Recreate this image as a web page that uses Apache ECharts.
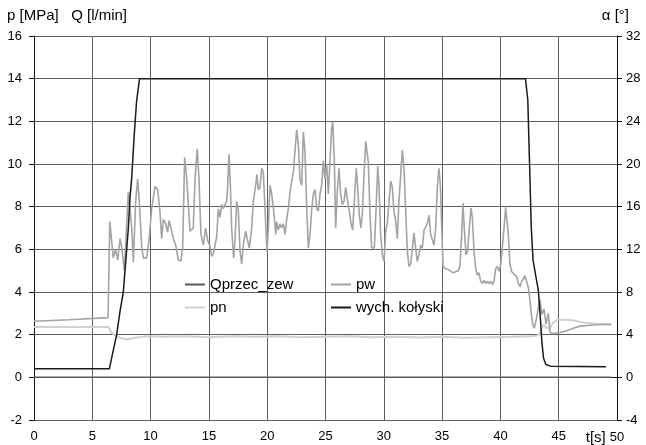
<!DOCTYPE html>
<html>
<head>
<meta charset="utf-8">
<script src="https://cdn.jsdelivr.net/npm/echarts@6/dist/echarts.min.js"></script>
<style>
    html, body { margin: 0; padding: 0; background: #fff; }
    #chart-container { width: 646px; height: 445px; }
</style>
</head>
<body>
<div id="chart-container"></div>
<script>
// t [s], value
var qprzecZew = [[0, 0], [49.5, 0]];

var pw = [
    [0, 2.63], [3, 2.7], [6.35, 2.8], [6.5, 7.3], [6.8, 5.6], [7.0, 6.0], [7.18, 5.5], [7.38, 6.5], [7.52, 6.1],
    [7.75, 5.0], [8.09, 8.7], [8.23, 7.9], [8.38, 7.0], [8.52, 5.4], [8.72, 8.25], [8.89, 9.3], [9.03, 8.25],
    [9.24, 6.1], [9.38, 5.6], [9.66, 5.6], [9.86, 6.4], [10.09, 7.9], [10.38, 8.95], [10.6, 8.8], [10.8, 7.8],
    [10.95, 6.5], [11.09, 7.4], [11.29, 7.2], [11.46, 6.8], [11.58, 7.35], [11.75, 7.0], [11.95, 6.5], [12.15, 6.2],
    [12.38, 5.5], [12.6, 5.45], [12.75, 6.1], [12.92, 10.3], [13.1, 9.3], [13.38, 6.85], [13.66, 7.0], [13.81, 9.3],
    [14.0, 10.7], [14.15, 9.3], [14.32, 6.7], [14.52, 6.2], [14.72, 7.0], [14.9, 6.4], [15.09, 6.15], [15.24, 5.67],
    [15.38, 5.8], [15.52, 5.75], [15.67, 6.6], [15.81, 7.9], [15.95, 7.5], [16.1, 8.1], [16.24, 7.9], [16.38, 8.1],
    [16.52, 8.25], [16.6, 8.9], [16.72, 10.45], [16.84, 9.0], [16.95, 7.0], [17.12, 5.6], [17.24, 6.4], [17.38, 8.25],
    [17.52, 7.9], [17.67, 5.9], [17.81, 5.3], [17.95, 6.2], [18.15, 6.85], [18.32, 6.4], [18.47, 6.06], [18.67, 7.0],
    [18.81, 8.25], [19.01, 9.0], [19.12, 9.5], [19.24, 8.8], [19.38, 8.9], [19.53, 9.8], [19.67, 9.6], [19.81, 7.9],
    [19.98, 5.9], [20.1, 7.0], [20.24, 9.0], [20.38, 8.6], [20.56, 7.8], [20.73, 6.7], [20.81, 7.3], [20.95, 6.9],
    [21.1, 7.2], [21.24, 7.0], [21.38, 7.2], [21.53, 6.7], [21.67, 7.4], [21.81, 7.9], [21.96, 8.7], [22.1, 9.2],
    [22.24, 9.6], [22.38, 10.6], [22.53, 11.6], [22.67, 10.9], [22.81, 9.3], [22.96, 9.0], [23.1, 11.5], [23.24, 10.6],
    [23.39, 7.9], [23.53, 6.06], [23.67, 6.7], [23.82, 7.9], [23.96, 8.6], [24.1, 8.8], [24.25, 7.9], [24.39, 7.8],
    [24.53, 8.6], [24.67, 9.0], [24.81, 10.15], [24.96, 9.3], [25.1, 10.0], [25.24, 8.6], [25.39, 10.15], [25.53, 11.7],
    [25.62, 12.0], [25.76, 10.15], [25.87, 7.0], [26.01, 8.7], [26.16, 9.8], [26.3, 8.6], [26.44, 8.1], [26.59, 8.25],
    [26.73, 8.9], [26.9, 8.25], [27.04, 7.8], [27.19, 7.2], [27.33, 6.9], [27.47, 8.25], [27.64, 9.8], [27.76, 8.9],
    [27.9, 7.6], [28.04, 7.0], [28.16, 7.7], [28.33, 9.8], [28.45, 11.06], [28.67, 10.1], [28.82, 7.6], [28.96, 6.06],
    [29.19, 6.06], [29.33, 7.8], [29.48, 9.9], [29.59, 9.0], [29.73, 6.7], [29.87, 5.75], [30.02, 5.44], [30.16, 6.85],
    [30.3, 7.2], [30.45, 8.25], [30.59, 9.2], [30.73, 8.9], [30.87, 7.8], [31.02, 7.3], [31.16, 6.5], [31.3, 8.25],
    [31.45, 9.5], [31.59, 10.67], [31.73, 9.8], [31.88, 7.8], [32.02, 5.9], [32.16, 5.2], [32.3, 5.3], [32.45, 6.06],
    [32.59, 6.77], [32.73, 6.06], [32.87, 5.44], [33.02, 5.75], [33.16, 6.2], [33.3, 6.06], [33.45, 6.9], [33.59, 6.85],
    [33.73, 7.2], [33.88, 7.6], [34.02, 6.7], [34.16, 6.77], [34.31, 6.2], [34.45, 7.0], [34.59, 8.9], [34.73, 9.8],
    [34.85, 9.0], [34.97, 7.0], [35.08, 5.2], [35.25, 5.1], [35.39, 5.05], [35.53, 5.05], [35.76, 4.97], [35.96, 4.9],
    [36.16, 4.95], [36.39, 5.0], [36.53, 5.2], [36.68, 6.7], [36.79, 8.17], [36.9, 7.0], [37.05, 5.75], [37.19, 5.9],
    [37.33, 7.0], [37.48, 7.94], [37.59, 7.5], [37.74, 5.9], [37.88, 5.1], [38.02, 4.8], [38.16, 4.9], [38.31, 4.5],
    [38.45, 4.4], [38.59, 4.55], [38.74, 4.4], [38.88, 4.5], [39.02, 4.4], [39.17, 4.5], [39.31, 4.35], [39.45, 4.5],
    [39.6, 5.1], [39.73, 5.2], [39.88, 4.97], [40.03, 5.3], [40.16, 6.06], [40.31, 7.0], [40.45, 7.97], [40.57, 7.9],
    [40.68, 6.7], [40.82, 5.3], [40.97, 4.95], [41.11, 5.0], [41.25, 4.8], [41.4, 4.7], [41.54, 4.4], [41.68, 4.25],
    [41.83, 4.5], [41.97, 4.45], [42.11, 4.75], [42.25, 4.8], [42.4, 4.2], [42.54, 3.6], [42.65, 3.0], [42.77, 2.47],
    [42.91, 2.3], [43.11, 2.8], [43.25, 3.25], [43.4, 3.64], [43.54, 2.95], [43.74, 3.2], [43.91, 2.5], [44.11, 3.0],
    [44.25, 2.1], [44.54, 2.05], [45.11, 2.1], [45.69, 2.18], [46.25, 2.3], [46.83, 2.4], [48, 2.45], [49.5, 2.5]
];

var pn = [
    [0, 2.36], [6.4, 2.36], [6.66, 2.08], [7.38, 1.84], [7.95, 1.77], [8.52, 1.84], [9.5, 1.92], [11, 1.9],
    [13, 1.93], [15, 1.88], [17, 1.92], [19, 1.9], [21, 1.93], [23, 1.88], [25, 1.9], [27, 1.92], [29, 1.88],
    [31, 1.9], [33, 1.87], [35, 1.9], [37, 1.85], [39, 1.88], [41, 1.9], [42.5, 1.92], [43.1, 1.95], [43.4, 2.05],
    [43.7, 2.47], [44.0, 2.3], [44.25, 2.3], [44.5, 2.55], [44.9, 2.7], [45.5, 2.7], [46.2, 2.68], [46.8, 2.6],
    [47.5, 2.55], [49.5, 2.45]
];

// alpha [deg], right axis
var wychKolyski = [
    [0, 0.8], [6.46, 0.8], [7.09, 4], [7.38, 6.2], [7.66, 8], [7.95, 12], [8.09, 14], [8.23, 16.8], [8.38, 18.7],
    [8.6, 22.8], [8.8, 25.9], [9.05, 28], [42.15, 28], [42.35, 26], [42.5, 20], [42.65, 14], [42.8, 11], [43.0, 9.7],
    [43.25, 8.2], [43.4, 6], [43.55, 3.4], [43.7, 1.8], [43.9, 1.2], [44.3, 1.05], [49.05, 1.0]
];

var seriesNames = ['Qprzec_zew', 'pw', 'pn', 'wych. kołyski'];
var seriesColors = ['#5a5a5a', '#a3a3a3', '#d0d0d0', '#1a1a1a'];

var fontFam = '"Liberation Sans", Arial, sans-serif';

var dom = document.getElementById('chart-container');
var myChart = echarts.init(dom, null, { renderer: 'canvas' });

var legendBase = {
    orient: 'vertical',
    top: 277,
    icon: 'rect',
    itemWidth: 20, itemHeight: 2, itemGap: 8, padding: 0,
    textStyle: { fontSize: 15, color: '#000', fontFamily: fontFam }
};

var option = {
    animation: false,
    backgroundColor: '#fff',
    title: [
        {
            text: 'p [MPa]   Q [l/min]',
            left: 7, top: 8, padding: 0,
            textStyle: { fontSize: 15, fontWeight: 'normal', color: '#000', fontFamily: fontFam }
        },
        {
            text: 'α [°]',
            right: 17, top: 8, padding: 0,
            textStyle: { fontSize: 15, fontWeight: 'normal', color: '#000', fontFamily: fontFam }
        }
    ],
    legend: [
        Object.assign({}, legendBase, { data: [seriesNames[0], seriesNames[2]], left: 185 }),
        Object.assign({}, legendBase, { data: [seriesNames[1], seriesNames[3]], left: 331 })
    ],
    grid: { left: 34, right: 29, top: 36, bottom: 25, containLabel: false },
    xAxis: {
        type: 'value',
        min: 0, max: 50, interval: 5,
        axisLine: { show: true, lineStyle: { color: '#111', width: 1 } },
        axisTick: { show: false },
        axisLabel: {
            color: '#000', fontSize: 13, fontFamily: fontFam, margin: 10,
            formatter: function (value) {
                if (value == 50) {
                    // unit sits left of the last label
                    return '{u|t[s]}{n|50}';
                }
                return value;
            },
            rich: {
                u: { fontSize: 15, color: '#000', fontFamily: fontFam, padding: [0, 4, 0, 0] },
                n: { fontSize: 13, color: '#000', fontFamily: fontFam, padding: [0, 24, 0, 0] }
            }
        },
        splitLine: { show: true, lineStyle: { color: '#5e5e5e', width: 1 } }
    },
    yAxis: [
        {
            type: 'value',
            min: -2, max: 16, interval: 2,
            axisLine: { show: true, onZero: false, lineStyle: { color: '#111', width: 1 } },
            axisTick: { show: true, length: 5, lineStyle: { color: '#111' } },
            axisLabel: { color: '#000', fontSize: 13, fontFamily: fontFam, margin: 12 },
            splitLine: { show: true, lineStyle: { color: '#5e5e5e', width: 1 } }
        },
        {
            type: 'value',
            position: 'right',
            min: -4, max: 32, interval: 4,
            axisLine: { show: true, onZero: false, lineStyle: { color: '#111', width: 1 } },
            axisTick: { show: true, length: 5, lineStyle: { color: '#111' } },
            axisLabel: { color: '#000', fontSize: 13, fontFamily: fontFam, margin: 9 },
            splitLine: { show: false }
        }
    ],
    series: [
        {
            name: seriesNames[0], type: 'line', data: qprzecZew, yAxisIndex: 0,
            symbol: 'none', color: seriesColors[0], lineStyle: { width: 1.5, color: seriesColors[0] }
        },
        {
            name: seriesNames[2], type: 'line', data: pn, yAxisIndex: 0,
            symbol: 'none', color: seriesColors[2], lineStyle: { width: 2, color: seriesColors[2] }
        },
        {
            name: seriesNames[1], type: 'line', data: pw, yAxisIndex: 0,
            symbol: 'none', color: seriesColors[1], lineStyle: { width: 1.6, color: seriesColors[1] }
        },
        {
            name: seriesNames[3], type: 'line', data: wychKolyski, yAxisIndex: 1,
            symbol: 'none', color: seriesColors[3], lineStyle: { width: 1.5, color: seriesColors[3] }
        }
    ]
};

myChart.setOption(option);
window.addEventListener('resize', myChart.resize);
</script>
</body>
</html>
